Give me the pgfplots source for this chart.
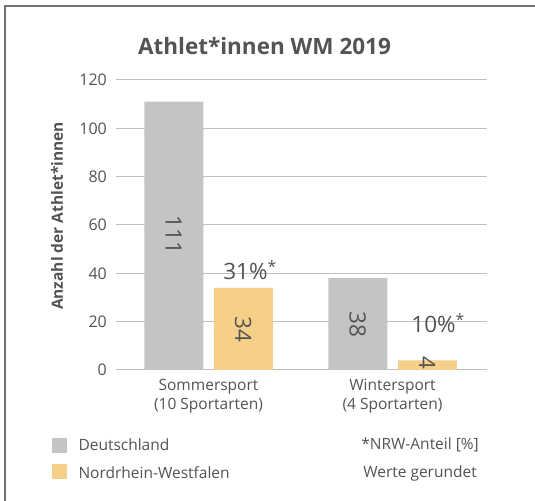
\documentclass[border=0pt]{standalone}
\usepackage{fontspec}
\setmainfont{Open Sans}
\usepackage{pgfplots}
\pgfplotsset{compat=1.18}
\definecolor{barG}{HTML}{C4C4C4}
\definecolor{barY}{HTML}{F6D089}
\definecolor{txt}{HTML}{535353}
\definecolor{grid}{HTML}{BDBDBD}
\definecolor{frame}{HTML}{707070}
\begin{document}
\begin{tikzpicture}[x=1bp,y=1bp]
\useasboundingbox (0,0) rectangle (535,501);
\draw[frame,line width=1.5bp] (5,-1) -- (5,495) -- (536,495);
\node[txt,font=\fontsize{22.5bp}{26bp}\selectfont\bfseries] at (264.5,455) {Athlet*innen WM 2019};
\begin{axis}[
  at={(116bp,131bp)}, anchor=south west,
  scale only axis, width=371bp, height=290bp,
  xmin=-0.5027, xmax=1.5136, ymin=0, ymax=120,
  ytick={0,20,...,120}, xtick=\empty,
  ymajorgrids, grid style={grid, line width=1bp},
  axis line style={draw=none}, major tick length=0,
  yticklabel style={txt, font=\fontsize{16bp}{19bp}\selectfont, inner sep=0pt, xshift=-9bp},
  /pgf/number format/assume math mode=true,
  ybar, bar width=59bp,
  clip=false,
]
\addplot[fill=barG, draw=none, bar shift=-34.75bp] coordinates {(0,111) (1,38)};
\addplot[fill=barY, draw=none, bar shift=34.75bp] coordinates {(0,34) (1,4)};
\begin{scope}[every node/.style={txt, font=\fontsize{22.5bp}{26bp}\selectfont}]
\node[rotate=-90] at ([xshift=-34.75bp]axis cs:0,55.9) {111};
\node[rotate=-90] at ([xshift=34.75bp]axis cs:0,16.8) {34};
\node[rotate=-90] at ([xshift=-34.75bp]axis cs:1,19) {38};
\node[rotate=-90] at ([xshift=34.75bp]axis cs:1,2.9) {4};
\node at ([xshift=37bp]axis cs:0,41.4) {31\%\rlap{\textsuperscript{*}}};
\node at ([xshift=41bp]axis cs:1,19.4) {10\%\rlap{\textsuperscript{*}}};
\end{scope}
\end{axis}
\begin{scope}[every node/.style={txt, font=\fontsize{15.5bp}{19bp}\selectfont}]
\node at (208.5,114) {Sommersport};
\node at (208.5,95) {(10 Sportarten)};
\node at (392.5,114) {Wintersport};
\node at (392.5,95) {(4 Sportarten)};
\node[rotate=90, font=\fontsize{15.5bp}{19bp}\selectfont\bfseries] at (57,285) {Anzahl der Athlet*innen};
\fill[barG] (52,48) rectangle (67,63);
\fill[barY] (52,22) rectangle (67,37);
\node[anchor=west] at (75,56) {Deutschland};
\node[anchor=west] at (75,28) {Nordrhein-Westfalen};
\node at (420,56) {*NRW-Anteil [\%]};
\node at (420,28) {Werte gerundet};
\end{scope}
\end{tikzpicture}
\end{document}
